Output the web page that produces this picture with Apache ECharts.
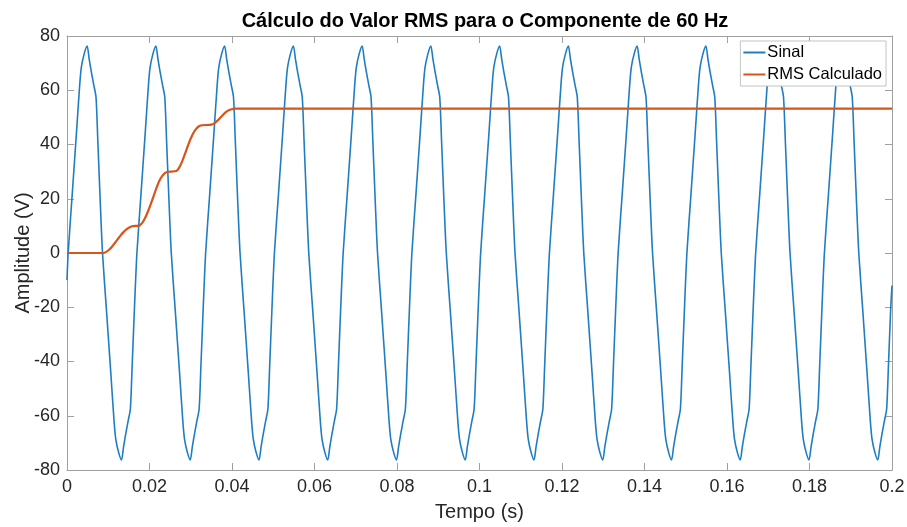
<!DOCTYPE html>
<html>
<head>
<meta charset="utf-8">
<script src="https://cdn.jsdelivr.net/npm/echarts@6/dist/echarts.min.js"></script>
<style>
  html, body { margin: 0; padding: 0; background: #fff; }
  #chart { width: 907px; height: 527px; }
</style>
</head>
<body>
<div id="chart"></div>
<script>
// Signal samples: time in milliseconds, one half-cycle per line
const tempoSinalMs = [
  0,
  0.28, 1.28, 2.28, 3.08, 3.48, 4.18, 4.88, 5.38, 5.93, 6.48, 7.03, 7.48, 8.03,
  8.61, 9.61, 10.61, 11.41, 11.81, 12.51, 13.21, 13.71, 14.26, 14.81, 15.36, 15.81, 16.36,
  16.95, 17.95, 18.95, 19.75, 20.15, 20.85, 21.55, 22.05, 22.6, 23.15, 23.7, 24.15, 24.7,
  25.28, 26.28, 27.28, 28.08, 28.48, 29.18, 29.88, 30.38, 30.93, 31.48, 32.03, 32.48, 33.03,
  33.61, 34.61, 35.61, 36.41, 36.81, 37.51, 38.21, 38.71, 39.26, 39.81, 40.36, 40.81, 41.36,
  41.95, 42.95, 43.95, 44.75, 45.15, 45.85, 46.55, 47.05, 47.6, 48.15, 48.7, 49.15, 49.7,
  50.28, 51.28, 52.28, 53.08, 53.48, 54.18, 54.88, 55.38, 55.93, 56.48, 57.03, 57.48, 58.03,
  58.61, 59.61, 60.61, 61.41, 61.81, 62.51, 63.21, 63.71, 64.26, 64.81, 65.36, 65.81, 66.36,
  66.95, 67.95, 68.95, 69.75, 70.15, 70.85, 71.55, 72.05, 72.6, 73.15, 73.7, 74.15, 74.7,
  75.28, 76.28, 77.28, 78.08, 78.48, 79.18, 79.88, 80.38, 80.93, 81.48, 82.03, 82.48, 83.03,
  83.61, 84.61, 85.61, 86.41, 86.81, 87.51, 88.21, 88.71, 89.26, 89.81, 90.36, 90.81, 91.36,
  91.95, 92.95, 93.95, 94.75, 95.15, 95.85, 96.55, 97.05, 97.6, 98.15, 98.7, 99.15, 99.7,
  100.28, 101.28, 102.28, 103.08, 103.48, 104.18, 104.88, 105.38, 105.93, 106.48, 107.03, 107.48, 108.03,
  108.61, 109.61, 110.61, 111.41, 111.81, 112.51, 113.21, 113.71, 114.26, 114.81, 115.36, 115.81, 116.36,
  116.95, 117.95, 118.95, 119.75, 120.15, 120.85, 121.55, 122.05, 122.6, 123.15, 123.7, 124.15, 124.7,
  125.28, 126.28, 127.28, 128.08, 128.48, 129.18, 129.88, 130.38, 130.93, 131.48, 132.03, 132.48, 133.03,
  133.61, 134.61, 135.61, 136.41, 136.81, 137.51, 138.21, 138.71, 139.26, 139.81, 140.36, 140.81, 141.36,
  141.95, 142.95, 143.95, 144.75, 145.15, 145.85, 146.55, 147.05, 147.6, 148.15, 148.7, 149.15, 149.7,
  150.28, 151.28, 152.28, 153.08, 153.48, 154.18, 154.88, 155.38, 155.93, 156.48, 157.03, 157.48, 158.03,
  158.61, 159.61, 160.61, 161.41, 161.81, 162.51, 163.21, 163.71, 164.26, 164.81, 165.36, 165.81, 166.36,
  166.95, 167.95, 168.95, 169.75, 170.15, 170.85, 171.55, 172.05, 172.6, 173.15, 173.7, 174.15, 174.7,
  175.28, 176.28, 177.28, 178.08, 178.48, 179.18, 179.88, 180.38, 180.93, 181.48, 182.03, 182.48, 183.03,
  183.61, 184.61, 185.61, 186.41, 186.81, 187.51, 188.21, 188.71, 189.26, 189.81, 190.36, 190.81, 191.36,
  191.95, 192.95, 193.95, 194.75, 195.15, 195.85, 196.55, 197.05, 197.6, 198.15, 198.7, 199.15, 199.7,
  200
];
const sinal = [
  -10,
  0, 22, 44, 62, 68.5, 73.5, 76.3, 71.5, 66.5, 62, 57.5, 41, 20,
  0, -22, -44, -62, -68.5, -73.5, -76.3, -71.5, -66.5, -62, -57.5, -41, -20,
  0, 22, 44, 62, 68.5, 73.5, 76.3, 71.5, 66.5, 62, 57.5, 41, 20,
  0, -22, -44, -62, -68.5, -73.5, -76.3, -71.5, -66.5, -62, -57.5, -41, -20,
  0, 22, 44, 62, 68.5, 73.5, 76.3, 71.5, 66.5, 62, 57.5, 41, 20,
  0, -22, -44, -62, -68.5, -73.5, -76.3, -71.5, -66.5, -62, -57.5, -41, -20,
  0, 22, 44, 62, 68.5, 73.5, 76.3, 71.5, 66.5, 62, 57.5, 41, 20,
  0, -22, -44, -62, -68.5, -73.5, -76.3, -71.5, -66.5, -62, -57.5, -41, -20,
  0, 22, 44, 62, 68.5, 73.5, 76.3, 71.5, 66.5, 62, 57.5, 41, 20,
  0, -22, -44, -62, -68.5, -73.5, -76.3, -71.5, -66.5, -62, -57.5, -41, -20,
  0, 22, 44, 62, 68.5, 73.5, 76.3, 71.5, 66.5, 62, 57.5, 41, 20,
  0, -22, -44, -62, -68.5, -73.5, -76.3, -71.5, -66.5, -62, -57.5, -41, -20,
  0, 22, 44, 62, 68.5, 73.5, 76.3, 71.5, 66.5, 62, 57.5, 41, 20,
  0, -22, -44, -62, -68.5, -73.5, -76.3, -71.5, -66.5, -62, -57.5, -41, -20,
  0, 22, 44, 62, 68.5, 73.5, 76.3, 71.5, 66.5, 62, 57.5, 41, 20,
  0, -22, -44, -62, -68.5, -73.5, -76.3, -71.5, -66.5, -62, -57.5, -41, -20,
  0, 22, 44, 62, 68.5, 73.5, 76.3, 71.5, 66.5, 62, 57.5, 41, 20,
  0, -22, -44, -62, -68.5, -73.5, -76.3, -71.5, -66.5, -62, -57.5, -41, -20,
  0, 22, 44, 62, 68.5, 73.5, 76.3, 71.5, 66.5, 62, 57.5, 41, 20,
  0, -22, -44, -62, -68.5, -73.5, -76.3, -71.5, -66.5, -62, -57.5, -41, -20,
  0, 22, 44, 62, 68.5, 73.5, 76.3, 71.5, 66.5, 62, 57.5, 41, 20,
  0, -22, -44, -62, -68.5, -73.5, -76.3, -71.5, -66.5, -62, -57.5, -41, -20,
  0, 22, 44, 62, 68.5, 73.5, 76.3, 71.5, 66.5, 62, 57.5, 41, 20,
  0, -22, -44, -62, -68.5, -73.5, -76.3, -71.5, -66.5, -62, -57.5, -41, -20,
  -12
];

// Computed RMS of the 60 Hz component (time in milliseconds)
const tempoRmsMs = [
  0, 8.8, 9.5, 10.2, 10.9, 11.6, 12.3, 13.0, 13.7, 14.4, 15.1, 15.8, 16.5, 17.5,
  18.2, 18.9, 19.6, 20.3, 21.0, 21.7, 22.4, 23.1, 23.8, 24.5, 26.5,
  27.2, 27.9, 28.6, 29.3, 30.0, 30.7, 31.4, 32.1, 32.8, 35.0,
  35.7, 36.4, 37.1, 37.8, 38.5, 39.2, 39.9, 40.6, 200
];
const rmsCalculado = [
  0, 0, 0.4, 1.2, 2.3, 3.7, 5.1, 6.5, 7.7, 8.7, 9.4, 9.85, 10.0, 10.1,
  11.0, 12.8, 15.2, 18.0, 21.0, 24.0, 26.6, 28.4, 29.5, 29.95, 30.2,
  31.5, 33.7, 36.5, 39.5, 42.2, 44.4, 45.9, 46.8, 47.1, 47.3,
  47.8, 48.7, 49.8, 50.9, 51.9, 52.6, 53.0, 53.2, 53.2
];

const xTicks = [0, 0.02, 0.04, 0.06, 0.08, 0.1, 0.12, 0.14, 0.16, 0.18, 0.2];
const yTicks = [-80, -60, -40, -20, 0, 20, 40, 60, 80];

const FONT = '"Liberation Sans", Arial, Helvetica, sans-serif';
const AXIS_COLOR = '#a0a0a0';
const TEXT_COLOR = '#262626';

const toPairs = (tMs, v) => tMs.map((t, i) => [t / 1000, v[i]]);

const chart = echarts.init(document.getElementById('chart'), null, { renderer: 'canvas' });

const baseX = {
  type: 'value',
  min: xTicks[0],
  max: xTicks[xTicks.length - 1],
  interval: 0.02,
  splitLine: { show: false },
  axisLine: { show: true, onZero: false, lineStyle: { color: AXIS_COLOR, width: 1 } },
  axisTick: { show: true, inside: true, length: 7, lineStyle: { color: AXIS_COLOR } }
};
const baseY = {
  type: 'value',
  min: yTicks[0],
  max: yTicks[yTicks.length - 1],
  interval: 20,
  splitLine: { show: false },
  axisLine: { show: true, onZero: false, lineStyle: { color: AXIS_COLOR, width: 1 } },
  axisTick: { show: true, inside: true, length: 7, lineStyle: { color: AXIS_COLOR } }
};

chart.setOption({
  animation: false,
  backgroundColor: '#ffffff',
  textStyle: { fontFamily: FONT },
  title: {
    text: 'Cálculo do Valor RMS para o Componente de 60 Hz',
    left: 480,
    top: 6,
    textAlign: 'center',
    textStyle: { fontFamily: FONT, fontSize: 20, fontWeight: 'bold', color: '#000' }
  },
  grid: { left: 67, right: 15, top: 36, bottom: 57, containLabel: false, outerBoundsMode: 'none' },
  legend: {
    data: ['Sinal', 'RMS Calculado'],
    orient: 'vertical',
    right: 21,
    top: 41,
    icon: 'rect',
    itemWidth: 22,
    itemHeight: 2,
    itemGap: 5,
    padding: [3, 4, 3, 3],
    backgroundColor: '#ffffff',
    borderColor: '#c4c4c4',
    borderWidth: 1,
    borderRadius: 0,
    textStyle: { fontFamily: FONT, fontSize: 16.5, color: '#000', padding: [0, 0, 0, -3] }
  },
  xAxis: [
    Object.assign({}, baseX, {
      position: 'bottom',
      name: 'Tempo (s)',
      nameLocation: 'middle',
      nameGap: 32,
      nameMoveOverlap: false,
      nameTextStyle: { fontFamily: FONT, fontSize: 20, color: TEXT_COLOR },
      axisLabel: {
        show: true, margin: 8, fontFamily: FONT, fontSize: 18, color: TEXT_COLOR,
        formatter: v => String(+v.toFixed(2))
      }
    }),
    Object.assign({}, baseX, { position: 'top', axisLabel: { show: false } })
  ],
  yAxis: [
    Object.assign({}, baseY, {
      position: 'left',
      name: 'Amplitude (V)',
      nameLocation: 'middle',
      nameGap: 34,
      nameMoveOverlap: false,
      nameTextStyle: { fontFamily: FONT, fontSize: 20, color: TEXT_COLOR },
      axisLabel: { show: true, margin: 7, fontFamily: FONT, fontSize: 18, color: TEXT_COLOR }
    }),
    Object.assign({}, baseY, { position: 'right', axisLabel: { show: false } })
  ],
  series: [
    {
      name: 'Sinal',
      type: 'line',
      xAxisIndex: 0,
      yAxisIndex: 0,
      data: toPairs(tempoSinalMs, sinal),
      symbol: 'none',
      smooth: 0.25,
      lineStyle: { color: '#1f7ec2', width: 1.6 },
      itemStyle: { color: '#1f7ec2' },
      z: 2
    },
    {
      name: 'RMS Calculado',
      type: 'line',
      xAxisIndex: 0,
      yAxisIndex: 0,
      data: toPairs(tempoRmsMs, rmsCalculado),
      symbol: 'none',
      smooth: 0.2,
      lineStyle: { color: '#d9541a', width: 2.2 },
      itemStyle: { color: '#d9541a' },
      z: 3
    }
  ]
});
</script>
</body>
</html>
